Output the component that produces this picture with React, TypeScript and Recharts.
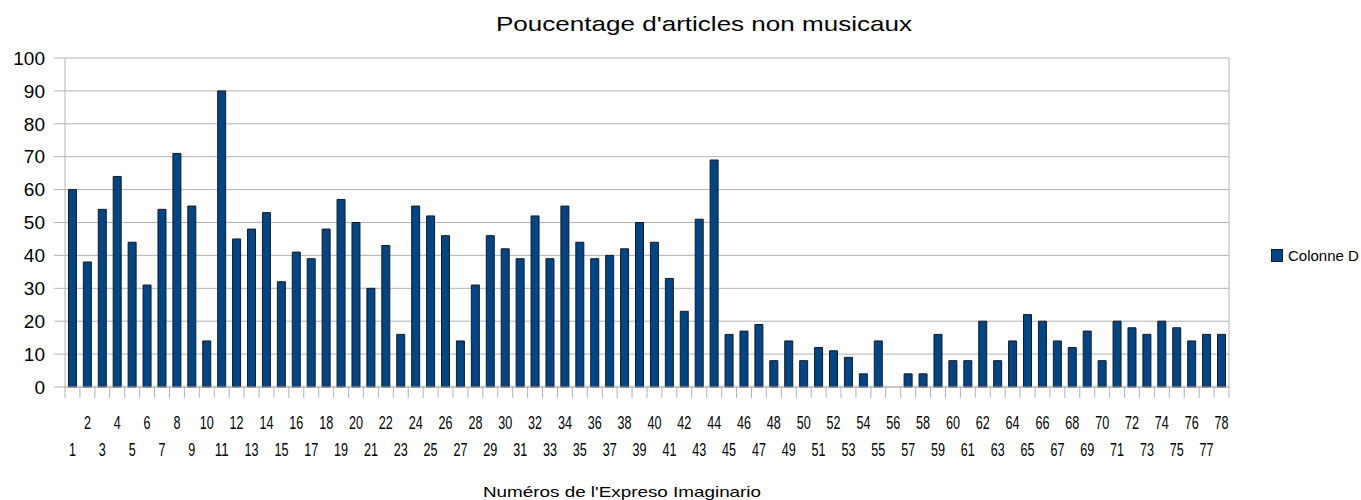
import React from "react";
import { BarChart, Bar, XAxis, YAxis, CartesianGrid, Legend } from "recharts";

// numéros de l'Expreso Imaginario
const issues = [
  1, 2, 3, 4, 5, 6, 7, 8, 9, 10, 11, 12, 13, 14, 15, 16, 17, 18, 19, 20,
  21, 22, 23, 24, 25, 26, 27, 28, 29, 30, 31, 32, 33, 34, 35, 36, 37, 38, 39, 40,
  41, 42, 43, 44, 45, 46, 47, 48, 49, 50, 51, 52, 53, 54, 55, 56, 57, 58, 59, 60,
  61, 62, 63, 64, 65, 66, 67, 68, 69, 70, 71, 72, 73, 74, 75, 76, 77, 78,
];

// Colonne D : % d'articles non musicaux
const colonneD = [
  60, 38, 54, 64, 44, 31, 54, 71, 55, 14, 90, 45, 48, 53, 32, 41, 39, 48, 57, 50,
  30, 43, 16, 55, 52, 46, 14, 31, 46, 42, 39, 52, 39, 55, 44, 39, 40, 42, 50, 44,
  33, 23, 51, 69, 16, 17, 19, 8, 14, 8, 12, 11, 9, 4, 14, 0, 4, 4, 16, 8,
  8, 20, 8, 14, 22, 20, 14, 12, 17, 8, 20, 18, 16, 20, 18, 14, 16, 16,
];

const yTicks = [0, 10, 20, 30, 40, 50, 60, 70, 80, 90, 100];

const data = issues.map((n, i) => ({ numero: String(n), colonneD: colonneD[i] }));

const BLUE = "#004586";
const GRID = "#b3b3b3";
const FONT = '"Liberation Sans", Arial, sans-serif';

function IssueTick(props: any) {
  const { x, y, payload, index, visibleTicksCount } = props;
  const half = payload.offset ?? 0;
  const label = String(payload.value);
  const even = Number(payload.value) % 2 === 0;
  return (
    <g>
      <line x1={x - half} x2={x - half} y1={y} y2={y + 11} stroke={GRID} />
      {index === visibleTicksCount - 1 && (
        <line x1={x + half} x2={x + half} y1={y} y2={y + 11} stroke={GRID} />
      )}
      <text
        x={x}
        y={y + (even ? 42 : 69)}
        textAnchor="middle"
        fontSize={18.5}
        fontFamily={FONT}
        fill="#000"
        textLength={label.length * 7}
        lengthAdjust="spacingAndGlyphs"
      >
        {label}
      </text>
    </g>
  );
}

function LegendBox() {
  return (
    <div style={{ display: "flex", alignItems: "center", fontFamily: FONT }}>
      <span
        style={{
          display: "inline-block",
          width: 10,
          height: 11,
          background: BLUE,
          border: "1px solid #1a1a1a",
        }}
      />
      <span style={{ fontSize: 15, marginLeft: 5, color: "#000", whiteSpace: "nowrap" }}>
        Colonne D
      </span>
    </div>
  );
}

export default function App() {
  return (
    <div
      style={{
        position: "absolute",
        left: 0,
        top: 0,
        width: 1361,
        height: 500,
        background: "#fff",
        fontFamily: FONT,
      }}
    >
      <div
        style={{
          position: "absolute",
          left: 704,
          top: 13,
          fontSize: 21,
          lineHeight: "21px",
          whiteSpace: "nowrap",
          transform: "translateX(-50%) scaleX(1.24)",
        }}
      >
        Poucentage d'articles non musicaux
      </div>

      <BarChart
        width={1361}
        height={500}
        data={data}
        margin={{ top: 58, right: 132, bottom: 0, left: 0 }}
        barCategoryGap="23%"
      >
        <CartesianGrid
          stroke={GRID}
          verticalCoordinatesGenerator={({ offset }: any) => [offset.left + offset.width]}
        />
        <XAxis
          dataKey="numero"
          interval={0}
          height={113}
          tickSize={0}
          tickMargin={0}
          tickLine={false}
          axisLine={{ stroke: GRID }}
          tick={<IssueTick />}
        />
        <YAxis
          width={65}
          domain={[0, 100]}
          ticks={yTicks}
          interval={0}
          tickSize={11}
          tickMargin={9}
          axisLine={{ stroke: GRID }}
          tickLine={{ stroke: GRID }}
          tick={{ fill: "#000", fontSize: 19, fontFamily: FONT }}
        />
        <Legend
          layout="horizontal"
          verticalAlign="middle"
          align="center"
          wrapperStyle={{ position: "absolute", left: 1271, top: 247, width: "auto", height: "auto" }}
          content={() => <LegendBox />}
        />
        <Bar
          dataKey="colonneD"
          name="Colonne D"
          fill={BLUE}
          stroke="#1a1a1a"
          strokeWidth={1}
          isAnimationActive={false}
        />
      </BarChart>

      <div
        style={{
          position: "absolute",
          left: 622,
          top: 485,
          fontSize: 14.5,
          lineHeight: "15px",
          whiteSpace: "nowrap",
          transform: "translateX(-50%) scaleX(1.3)",
        }}
      >
        Numéros de l'Expreso Imaginario
      </div>
    </div>
  );
}
